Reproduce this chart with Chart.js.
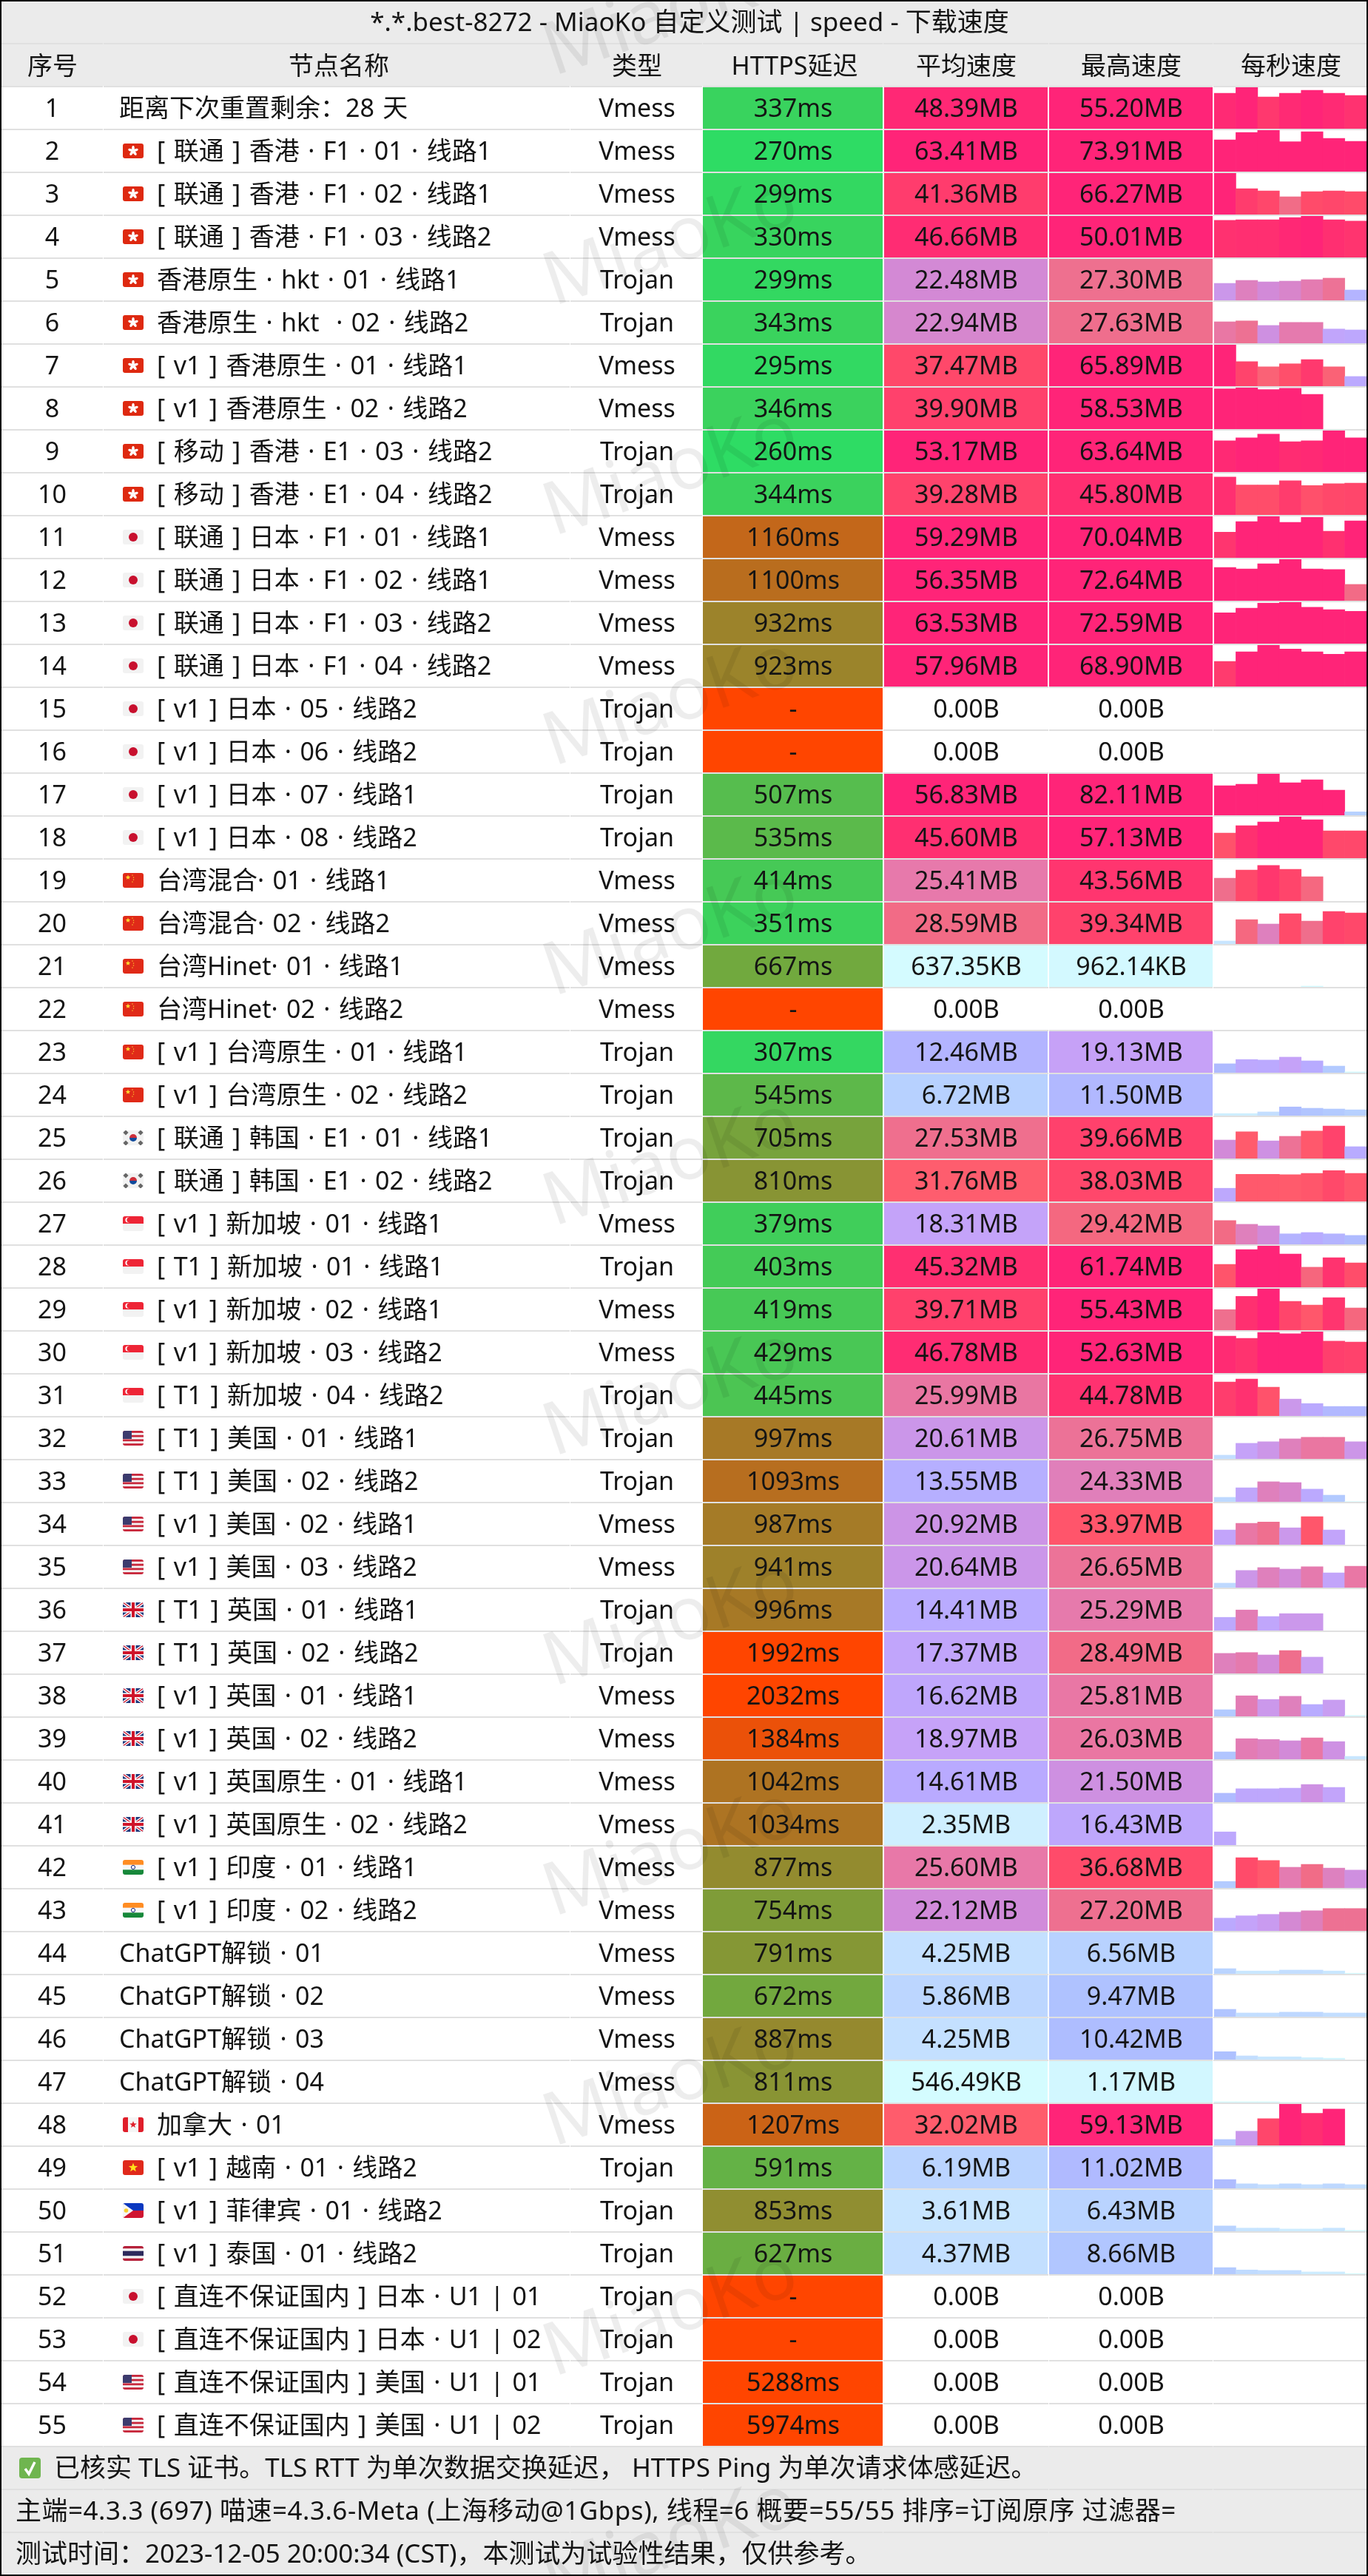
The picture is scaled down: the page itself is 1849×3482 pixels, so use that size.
<!DOCTYPE html>
<html lang="zh-CN">
<head>
<meta charset="utf-8">
<title>MiaoKo speed</title>
<script src="https://cdn.jsdelivr.net/npm/chart.js@4"></script>
<style>
html,body{margin:0;padding:0;background:#fff;overflow:hidden}
#page{position:relative;width:1849px;height:3482px}
#page canvas{position:absolute;display:block}
</style>
</head>
<body>
<div id="page"><canvas id="table" width="1849" height="3482" style="left:0;top:0"></canvas></div>
<script>
const TITLE = "*.*.best-8272 - MiaoKo 自定义测试 | speed - 下载速度";
const HEADERS = ["序号","节点名称","类型","HTTPS延迟","平均速度","最高速度","每秒速度"];
const FOOTERS = [
 "已核实 TLS 证书。TLS RTT 为单次数据交换延迟， HTTPS Ping 为单次请求体感延迟。",
 "主端=4.3.3 (697) 喵速=4.3.6-Meta (上海移动@1Gbps), 线程=6 概要=55/55 排序=订阅原序 过滤器=",
 "测试时间：2023-12-05 20:00:34 (CST)，本测试为试验性结果，仅供参考。"
];
const ROW_IDS = Array.from({length:55},(_,i)=>String(i+1));
const NAMES = [
"距离下次重置剩余：28 天","[ 联通 ] 香港 · F1 · 01 · 线路1","[ 联通 ] 香港 · F1 · 02 · 线路1","[ 联通 ] 香港 · F1 · 03 · 线路2",
"香港原生 · hkt · 01 · 线路1","香港原生 · hkt  · 02 · 线路2","[ v1 ] 香港原生 · 01 · 线路1","[ v1 ] 香港原生 · 02 · 线路2",
"[ 移动 ] 香港 · E1 · 03 · 线路2","[ 移动 ] 香港 · E1 · 04 · 线路2","[ 联通 ] 日本 · F1 · 01 · 线路1","[ 联通 ] 日本 · F1 · 02 · 线路1",
"[ 联通 ] 日本 · F1 · 03 · 线路2","[ 联通 ] 日本 · F1 · 04 · 线路2","[ v1 ] 日本 · 05 · 线路2","[ v1 ] 日本 · 06 · 线路2",
"[ v1 ] 日本 · 07 · 线路1","[ v1 ] 日本 · 08 · 线路2","台湾混合· 01 · 线路1","台湾混合· 02 · 线路2","台湾Hinet· 01 · 线路1","台湾Hinet· 02 · 线路2",
"[ v1 ] 台湾原生 · 01 · 线路1","[ v1 ] 台湾原生 · 02 · 线路2","[ 联通 ] 韩国 · E1 · 01 · 线路1","[ 联通 ] 韩国 · E1 · 02 · 线路2",
"[ v1 ] 新加坡 · 01 · 线路1","[ T1 ] 新加坡 · 01 · 线路1","[ v1 ] 新加坡 · 02 · 线路1","[ v1 ] 新加坡 · 03 · 线路2","[ T1 ] 新加坡 · 04 · 线路2",
"[ T1 ] 美国 · 01 · 线路1","[ T1 ] 美国 · 02 · 线路2","[ v1 ] 美国 · 02 · 线路1","[ v1 ] 美国 · 03 · 线路2",
"[ T1 ] 英国 · 01 · 线路1","[ T1 ] 英国 · 02 · 线路2","[ v1 ] 英国 · 01 · 线路1","[ v1 ] 英国 · 02 · 线路2",
"[ v1 ] 英国原生 · 01 · 线路1","[ v1 ] 英国原生 · 02 · 线路2","[ v1 ] 印度 · 01 · 线路1","[ v1 ] 印度 · 02 · 线路2",
"ChatGPT解锁 · 01","ChatGPT解锁 · 02","ChatGPT解锁 · 03","ChatGPT解锁 · 04","加拿大 · 01",
"[ v1 ] 越南 · 01 · 线路2","[ v1 ] 菲律宾 · 01 · 线路2","[ v1 ] 泰国 · 01 · 线路2",
"[ 直连不保证国内 ] 日本 · U1 | 01","[ 直连不保证国内 ] 日本 · U1 | 02","[ 直连不保证国内 ] 美国 · U1 | 01","[ 直连不保证国内 ] 美国 · U1 | 02"];
const FLAGS = ["","hk","hk","hk","hk","hk","hk","hk","hk","hk","jp","jp","jp","jp","jp","jp","jp","jp","cn","cn","cn","cn","cn","cn","kr","kr","sg","sg","sg","sg","sg","us","us","us","us","gb","gb","gb","gb","gb","gb","in","in","","","","","ca","vn","ph","th","jp","jp","us","us"];
const V="Vmess",T="Trojan";
const TYPES = [V,V,V,V,T,T,V,V,T,T,V,V,V,V,T,T,T,T,V,V,V,V,T,T,T,T,V,T,V,V,T,T,T,V,V,T,T,V,V,V,V,V,V,V,V,V,V,V,T,T,T,T,T,T,T];
const LATENCY_MS = [337,270,299,330,299,343,295,346,260,344,1160,1100,932,923,null,null,507,535,414,351,667,null,307,545,705,810,379,403,419,429,445,997,1093,987,941,996,1992,2032,1384,1042,1034,877,754,791,672,887,811,1207,591,853,627,null,null,5288,5974];
const AVG_SPEED = ["48.39MB","63.41MB","41.36MB","46.66MB","22.48MB","22.94MB","37.47MB","39.90MB","53.17MB","39.28MB","59.29MB","56.35MB","63.53MB","57.96MB","0.00B","0.00B","56.83MB","45.60MB","25.41MB","28.59MB","637.35KB","0.00B","12.46MB","6.72MB","27.53MB","31.76MB","18.31MB","45.32MB","39.71MB","46.78MB","25.99MB","20.61MB","13.55MB","20.92MB","20.64MB","14.41MB","17.37MB","16.62MB","18.97MB","14.61MB","2.35MB","25.60MB","22.12MB","4.25MB","5.86MB","4.25MB","546.49KB","32.02MB","6.19MB","3.61MB","4.37MB","0.00B","0.00B","0.00B","0.00B"];
const MAX_SPEED = ["55.20MB","73.91MB","66.27MB","50.01MB","27.30MB","27.63MB","65.89MB","58.53MB","63.64MB","45.80MB","70.04MB","72.64MB","72.59MB","68.90MB","0.00B","0.00B","82.11MB","57.13MB","43.56MB","39.34MB","962.14KB","0.00B","19.13MB","11.50MB","39.66MB","38.03MB","29.42MB","61.74MB","55.43MB","52.63MB","44.78MB","26.75MB","24.33MB","33.97MB","26.65MB","25.29MB","28.49MB","25.81MB","26.03MB","21.50MB","16.43MB","36.68MB","27.20MB","6.56MB","9.47MB","10.42MB","1.17MB","59.13MB","11.02MB","6.43MB","8.66MB","0.00B","0.00B","0.00B","0.00B"];
const PER_SECOND_MB = [
[47.3,55.2,42.4,47.3,51.3,47.3,44.4],[56.8,69.9,73.9,53.2,71.3,59.4,54.1],[66.27,41.4,37.9,28.4,36.7,37.9,36.7],[44.7,45.5,45.5,48.2,50,45.5,43.8],
[20.5,24.1,22.3,23.2,25,26.8,12.5],[25.9,27,21.5,25.2,25.2,17.2,16.1],[65.9,39,30.8,35.6,42.3,30.8,15.4],[56.8,58.5,55.9,57.6,49.1,0,0],
[47.8,52.5,58.1,46.5,47.8,63.6,52.5],[45.6,36.1,36.1,41.2,35.4,37.6,38.3],[43.4,61.3,70,59.8,68.5,45,62.3],[58.3,55.7,64.7,72.6,55.7,54.6,28.6],
[54,62,71,72.6,63.6,59.4,56.7],[41.7,57.8,68.9,62.4,57.8,53.8,57.8],[0,0,0,0,0,0,0],[0,0,0,0,0,0,0],
[58.7,61.6,82.1,64.5,70.4,49.9,6.8],[34.7,44.9,50,57.1,53,37.7,37.7],[27.7,37.5,42.9,38.4,29.5,0,0],[3.6,29.5,24.1,36.6,27.7,39.3,37.5],
[0,0,0,0,0.94,0,0],[0,0,0,0,0,0,0],[10.8,15.9,15.3,18.8,14.3,8,1],[2.5,2.5,4.5,10.5,8.9,8,7],
[22.3,32.2,21.3,26.8,33.1,39.2,14.3],[15.9,32.8,32.8,32.2,33.8,37.3,33.8],[28.7,24.2,22.3,12.7,14.3,12.7,10.8],[34.2,56.2,61.7,49.5,29.9,44,36.2],
[27.5,45.2,55.1,38.5,33.5,43.4,29.7],[46.9,44.2,51.6,49.9,52.6,40.5,39.5],[41.1,44.6,34.7,20.4,15,11.5,11.5],[4.5,18.8,20.7,24.2,26.1,26.1,20.7],
[5.4,16.9,24.2,23.2,15.3,8,0.3],[17.8,25.8,27.4,20.4,33.8,17.8,0],[5.4,20.7,24.2,22.3,25.2,17.8,25.8],[15.9,24.8,16.9,20.4,20.4,0,0],
[24.2,25.2,22.3,27.7,19.7,0,0],[8,24.8,20.4,24.2,14.3,19.7,1],[8.9,24.8,23.9,22.3,25.8,21.3,3.5],[10.8,16.2,16.2,16.9,21.3,17.8,0],
[15.9,0,0,0,0,0,0],[7.9,36.6,33.2,25,28.4,24,21.6],[15.4,18.2,19.9,22.6,24.3,27,27],[6.2,3.4,3.4,4.5,4.5,3.4,0.7],
[8.9,4.5,4.5,5.5,5.5,4.5,4.5],[9.6,4.5,3.4,3.4,2.4,1.7,0],[0.9,0.9,0.9,0.2,0.1,0.1,0.1],[8.5,20.3,38.1,59.1,45.8,51.8,0],
[10.6,5.5,4.5,5.5,4.5,5.5,4.5],[6.4,3.8,3.8,2.7,2.7,3.8,1],[7.9,5.1,4.5,4.5,2.7,2.7,0.7],[0,0,0,0,0,0,0],[0,0,0,0,0,0,0],[0,0,0,0,0,0,0],[0,0,0,0,0,0,0]];

/* colour ramps */
const SPEED_RAMP=[[0.5,"#d4fcff"],[2.35,"#cfefff"],[4.25,"#c4e0ff"],[6.56,"#b8d2ff"],[10,"#adbfff"],[14.6,"#b9aaff"],[19,"#c6a2f8"],[22,"#d08cdc"],[25.6,"#e878a8"],[27.2,"#ee7090"],[30,"#f6667c"],[32,"#ff5c6c"],[37,"#ff4a6a"],[45,"#ff3070"],[50,"#ff2478"]];
const LATENCY_RAMP=[[270,"#2edc64"],[672,"#72a83e"],[1034,"#ad7423"],[1500,"#ff4500"]];
const FONT='"Noto Sans","Noto Sans CJK SC",sans-serif';
const TEXT_COLOR="#141414";
/* table geometry (page pixels) */
const ROW_H=58, CELL_H=56, FIRST_ROW_TOP=118, ROWS_END=3308, TEXT_DY=2;
const COL_EDGES=[2,139,770,949,1193,1417,1639,1847];
const HEADER_CENTRES=[71,458,861,1074,1306,1529,1745];
const NAME_X=161, FLAG_X=166, FLAGGED_NAME_X=212;
const LAT_CELL=[950,1193], AVG_CELL=[1195,1416], MAX_CELL=[1418,1639];
const SPARK_LEFT=1641, SPARK_W=206;

function hex(c){return [1,3,5].map(i=>parseInt(c.substr(i,2),16));}
function ramp(stops,v){
  if(v<=stops[0][0])return stops[0][1];
  for(let i=1;i<stops.length;i++){
    if(v<=stops[i][0]){
      const t=(v-stops[i-1][0])/(stops[i][0]-stops[i-1][0]),a=hex(stops[i-1][1]),b=hex(stops[i][1]);
      return "rgb("+a.map((x,k)=>Math.round(x+(b[k]-x)*t)).join(",")+")";
    }
  }
  return stops[stops.length-1][1];
}
function toMB(s){const n=parseFloat(s);return s.endsWith("KB")?n/1024:s.endsWith("MB")?n:0;}
const speedColor=v=>v>0?ramp(SPEED_RAMP,v):"rgba(0,0,0,0)";
const latencyColor=v=>v===null?"#ff4500":ramp(LATENCY_RAMP,v);

function rr(c,x,y,w,h,r){c.beginPath();c.roundRect(x,y,w,h,r);}
function star(c,cx,cy,r,col){c.fillStyle=col;c.beginPath();for(let i=0;i<10;i++){const a=-Math.PI/2+i*Math.PI/5,q=i%2?r*0.42:r;c.lineTo(cx+q*Math.cos(a),cy+q*Math.sin(a));}c.closePath();c.fill();}
function flag(c,code,x,cy){
  const w=28,h=20,y=cy-10;
  c.save();rr(c,x,y,w,h,3);c.clip();
  const band=(cols)=>cols.forEach((col,i)=>{c.fillStyle=col;c.fillRect(x,y+i*h/cols.length,w,h/cols.length+0.5);});
  if(code==="hk"){c.fillStyle="#de2910";c.fillRect(x,y,w,h);for(let i=0;i<5;i++){const a=i*2*Math.PI/5-Math.PI/2;c.fillStyle="#fff";c.beginPath();c.ellipse(x+14+3.6*Math.cos(a),cy+3.6*Math.sin(a),3.4,1.8,a,0,7);c.fill();}}
  else if(code==="jp"){c.fillStyle="#f2f2f2";c.fillRect(x,y,w,h);c.fillStyle="#c8102e";c.beginPath();c.arc(x+14,cy,6,0,7);c.fill();}
  else if(code==="cn"){c.fillStyle="#e02a18";c.fillRect(x,y,w,h);star(c,x+7,y+6,3.5,"#ffdc30");star(c,x+13,y+3,1.1,"#ffdc30");star(c,x+14.5,y+6,1.1,"#ffdc30");star(c,x+14.5,y+9,1.1,"#ffdc30");star(c,x+13,y+12,1.1,"#ffdc30");}
  else if(code==="kr"){c.fillStyle="#f2f2f2";c.fillRect(x,y,w,h);c.fillStyle="#cd2e3a";c.beginPath();c.arc(x+14,cy,5,Math.PI,0);c.fill();c.fillStyle="#0f4a9c";c.beginPath();c.arc(x+14,cy,5,0,Math.PI);c.fill();c.fillStyle="#666";[[4,3],[24,3],[4,17],[24,17]].forEach(p=>{c.save();c.translate(x+p[0],y+p[1]);c.rotate(Math.PI/4);c.fillRect(-2.5,-2.5,5,5);c.restore();});}
  else if(code==="sg"){band(["#ee2536","#f2f2f2"]);c.fillStyle="#fff";c.beginPath();c.arc(x+7,y+5,3.6,0,7);c.fill();c.fillStyle="#ee2536";c.beginPath();c.arc(x+8.6,y+5,3.2,0,7);c.fill();}
  else if(code==="us"){for(let i=0;i<7;i++){c.fillStyle=i%2?"#f5f5f5":"#c8283c";c.fillRect(x,y+i*h/7,w,h/7+0.5);}c.fillStyle="#3c3b6e";c.fillRect(x,y,12,11);}
  else if(code==="gb"){c.fillStyle="#1f3a7d";c.fillRect(x,y,w,h);c.strokeStyle="#fff";c.lineWidth=4;c.beginPath();c.moveTo(x,y);c.lineTo(x+w,y+h);c.moveTo(x+w,y);c.lineTo(x,y+h);c.stroke();c.strokeStyle="#cf142b";c.lineWidth=1.4;c.stroke();c.fillStyle="#fff";c.fillRect(x,cy-3.5,w,7);c.fillRect(x+10.5,y,7,h);c.fillStyle="#cf142b";c.fillRect(x,cy-2,w,4);c.fillRect(x+12,y,4,h);}
  else if(code==="in"){band(["#ff8c22","#f7f7f7","#17883a"]);c.strokeStyle="#1a2a80";c.lineWidth=1;c.beginPath();c.arc(x+14,cy,2.6,0,7);c.stroke();}
  else if(code==="ca"){c.fillStyle="#f5f5f5";c.fillRect(x,y,w,h);c.fillStyle="#e01e2a";c.fillRect(x,y,7,h);c.fillRect(x+21,y,7,h);star(c,x+14,cy,5,"#e01e2a");}
  else if(code==="vn"){c.fillStyle="#e0291b";c.fillRect(x,y,w,h);star(c,x+14,cy,6.5,"#ffe01a");}
  else if(code==="ph"){band(["#0b38c0","#d01530"]);c.fillStyle="#f6f6f6";c.beginPath();c.moveTo(x,y);c.lineTo(x+14,cy);c.lineTo(x,y+h);c.fill();c.fillStyle="#f7cf2e";c.beginPath();c.arc(x+4.5,cy,2.8,0,7);c.fill();}
  else if(code==="th"){band(["#b5213a","#f5f5f5","#2d2a5c","#2d2a5c","#f5f5f5","#b5213a"]);}
  c.restore();
}

const tablePlugin={
  id:"tableChrome",
  beforeDraw(chart){
    const c=chart.ctx;
    c.save();
    c.fillStyle="#fff";c.fillRect(0,0,1849,3482);
    c.fillStyle="#ebebeb";c.fillRect(0,0,1849,116);c.fillRect(0,ROWS_END-2,1849,3482-ROWS_END+2);
    c.fillStyle="#e0e0e0";
    const y=chart.scales.y;
    const rules=[58,116];
    ROW_IDS.forEach((_,i)=>rules.push(Math.round(y.getPixelForValue(i))+28));
    rules.push(3364,3422);
    rules.forEach(ry=>{
      for(let k=0;k<COL_EDGES.length-1;k++){c.fillRect(COL_EDGES[k]+(k?1:0),ry,COL_EDGES[k+1]-COL_EDGES[k]-(k?1:0),2);}
    });
    c.restore();
  },
  afterDatasetsDraw(chart){
    const c=chart.ctx,y=chart.scales.y;
    c.save();
    /* watermark */
    c.fillStyle="rgba(0,0,0,0.07)";c.font='100px "Noto Sans",sans-serif';c.textAlign="left";c.textBaseline="alphabetic";
    for(let k=0;k<12;k++){c.save();c.translate(748,103+311*k);c.rotate(-19*Math.PI/180);c.fillText("MiaoKo",0,0);c.restore();}
    /* texts */
    c.fillStyle=TEXT_COLOR;c.textBaseline="middle";c.textAlign="center";
    c.font="35px "+FONT;
    c.fillText(TITLE,932,32);
    c.font="34px "+FONT;
    HEADERS.forEach((h,i)=>c.fillText(h,HEADER_CENTRES[i],91));
    ROW_IDS.forEach((_,i)=>{
      const cy=y.getPixelForValue(i);
      const ty=cy+TEXT_DY;
      c.fillStyle=TEXT_COLOR;c.textAlign="left";
      c.wordSpacing="2.6px";
      c.fillText(NAMES[i],FLAGS[i]?FLAGGED_NAME_X:NAME_X,ty);
      c.wordSpacing="0px";
      c.textAlign="center";
      c.fillText(TYPES[i],861,ty);
      c.fillText(LATENCY_MS[i]===null?"-":LATENCY_MS[i]+"ms",1072,ty);
      c.fillText(AVG_SPEED[i],1306,ty);
      c.fillText(MAX_SPEED[i],1529,ty);
      if(FLAGS[i])flag(c,FLAGS[i],FLAG_X,cy);
    });
    /* footer */
    c.font="35px "+FONT;
    c.fillStyle=TEXT_COLOR;c.textAlign="left";
    c.fillText(FOOTERS[0],73,3338);
    c.letterSpacing="0.52px";
    c.fillText(FOOTERS[1],21,3396);
    c.letterSpacing="0px";
    c.fillText(FOOTERS[2],21,3454);
    c.fillStyle="#6fb54f";rr(c,26,3322,29,28,4);c.fill();
    c.strokeStyle="#fff";c.lineWidth=3.5;c.beginPath();c.moveTo(34,3337);c.lineTo(39,3344);c.lineTo(47,3328);c.stroke();
    /* frame */
    c.fillStyle="#000";c.fillRect(0,0,1849,2);c.fillRect(0,3480,1849,2);c.fillRect(0,0,2,3482);c.fillRect(1847,0,2,3482);
    c.restore();
  }
};

const cellDataset=(label,span,colors)=>({
  label,
  data:ROW_IDS.map(()=>span),
  backgroundColor:colors,
  borderWidth:0,borderSkipped:false,
  grouped:false,barPercentage:1,categoryPercentage:CELL_H/ROW_H
});

new Chart(document.getElementById("table"),{
  type:"bar",
  data:{labels:ROW_IDS,datasets:[
    cellDataset("HTTPS延迟",LAT_CELL,LATENCY_MS.map(latencyColor)),
    cellDataset("平均速度",AVG_CELL,AVG_SPEED.map(s=>speedColor(toMB(s)))),
    cellDataset("最高速度",MAX_CELL,MAX_SPEED.map(s=>speedColor(toMB(s))))
  ]},
  options:{
    indexAxis:"y",responsive:false,animation:false,devicePixelRatio:1,
    layout:{padding:{top:FIRST_ROW_TOP-1,bottom:3482-ROWS_END+1,left:0,right:0}},
    plugins:{legend:{display:false},tooltip:{enabled:false},title:{display:false}},
    scales:{
      x:{type:"linear",min:COL_EDGES[1],max:1849,display:false,stacked:false},
      y:{type:"category",offset:true,position:"left",
         border:{display:false},grid:{display:false,drawTicks:false},
         afterFit(s){s.width=COL_EDGES[1];},
         ticks:{autoSkip:false,padding:49,labelOffset:TEXT_DY,crossAlign:"center",color:TEXT_COLOR,font:{family:FONT,size:34}}}
    }
  },
  plugins:[tablePlugin]
});

/* per-second speed bars: one small chart per row, value axis 0..max(row max, 50 MB) */
const page=document.getElementById("page");
PER_SECOND_MB.forEach((vals,i)=>{
  if(!vals.some(v=>v>0))return;
  const cv=document.createElement("canvas");
  cv.width=SPARK_W;cv.height=CELL_H;
  cv.style.left=SPARK_LEFT+"px";cv.style.top=(FIRST_ROW_TOP+i*ROW_H)+"px";
  page.appendChild(cv);
  new Chart(cv,{
    type:"bar",
    data:{labels:vals.map((_,k)=>k+1),datasets:[{data:vals,backgroundColor:vals.map(speedColor),borderWidth:0,barPercentage:1,categoryPercentage:1}]},
    options:{responsive:false,animation:false,devicePixelRatio:1,layout:{padding:0},
      plugins:{legend:{display:false},tooltip:{enabled:false}},
      scales:{x:{display:false,offset:true},y:{display:false,min:0,max:Math.max(toMB(MAX_SPEED[i]),50)}}}
  });
});
</script>
</body>
</html>
